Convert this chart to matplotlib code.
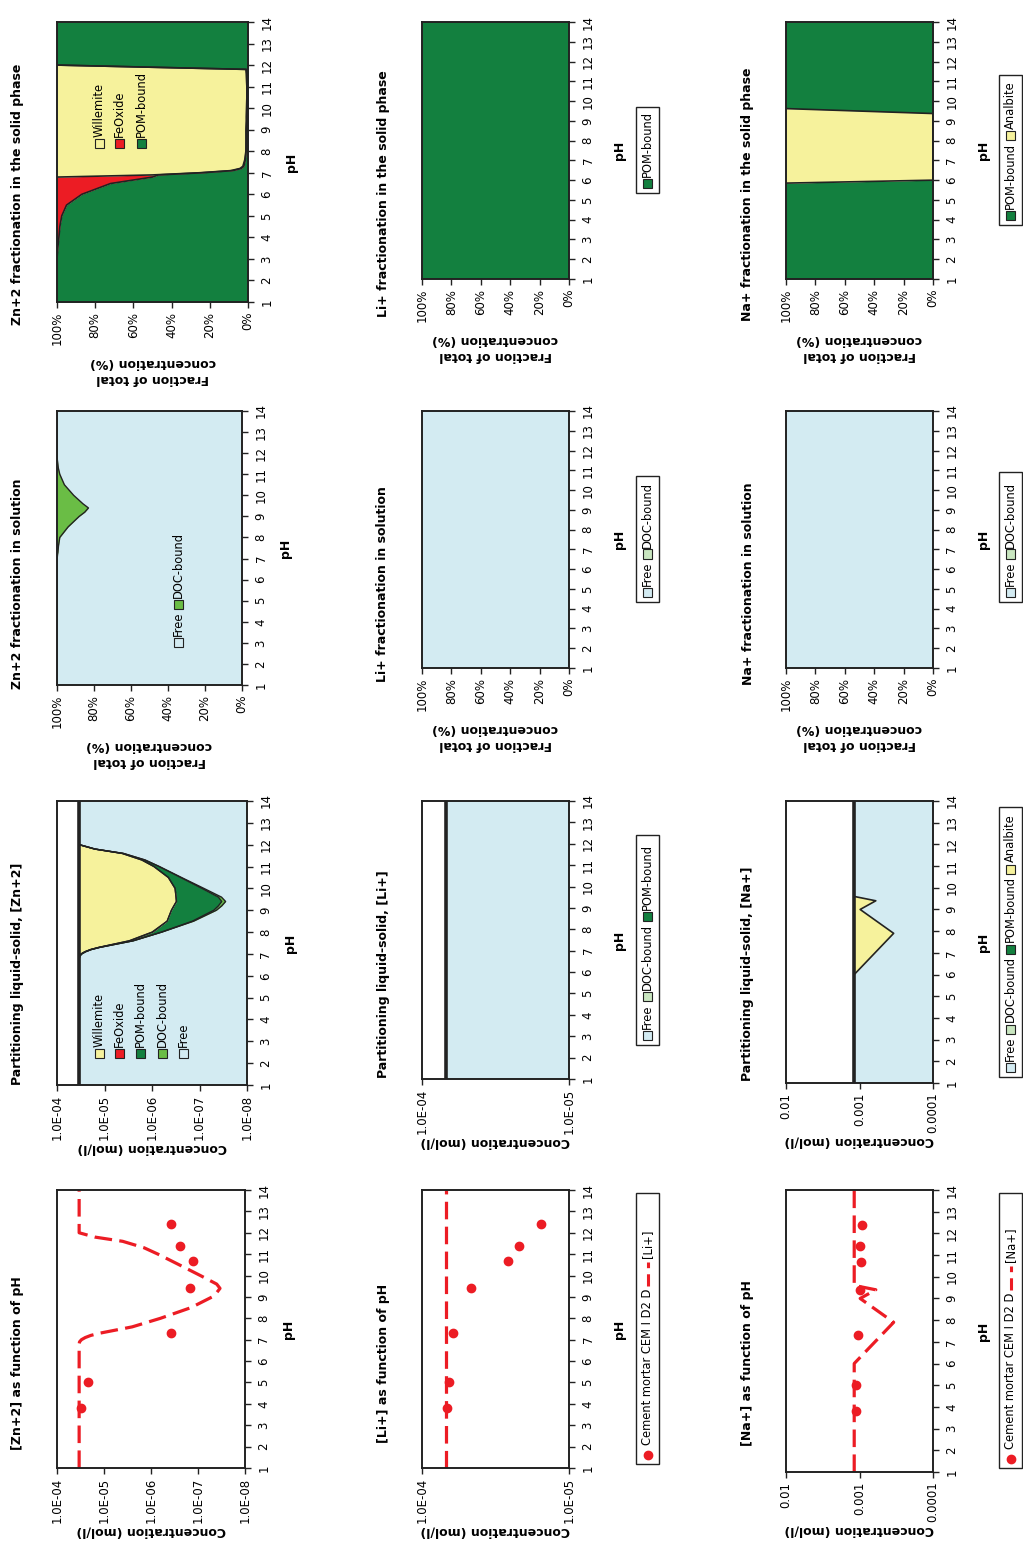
import matplotlib
matplotlib.use('Agg')
import matplotlib.pyplot as plt
import numpy as np
from matplotlib.patches import Rectangle
from matplotlib.lines import Line2D
from matplotlib.ticker import NullLocator

plt.rcParams['font.family'] = ['DejaVu Sans']

W, H = 1023, 1541

ph_ticks = list(range(1, 15))
pct_ticks = [100, 80, 60, 40, 20, 0]
pct_labels = ['100%', '80%', '60%', '40%', '20%', '0%']

# measured leachate concentrations (mol/l)
ph_meas = [3.8, 5.0, 7.3, 9.4, 10.7, 11.4, 12.4]
zn_meas = [3.16e-5, 2.24e-5, 3.7e-7, 1.5e-7, 1.3e-7, 2.45e-7, 3.7e-7]
li_meas = [6.73e-5, 6.52e-5, 6.12e-5, 4.65e-5, 2.62e-5, 2.2e-5, 1.54e-5]
na_meas = [1.10e-3, 1.10e-3, 1.06e-3, 1.0e-3, 9.55e-4, 9.8e-4, 9.3e-4]

# Zn model
ph_zn = [1, 2, 3, 3.5, 4, 4.5, 5, 5.5, 6, 6.5, 6.8, 6.9, 7.0, 7.1, 7.2, 7.3,
         7.6, 8.0, 8.5, 9.0, 9.2, 9.4, 9.6, 10.0, 10.5, 11.0, 11.3, 11.6,
         11.8, 12.0, 13, 14]
zn_total = 3.4e-5
zn_liquid = [3.38e-5, 3.38e-5, 3.38e-5, 3.38e-5, 3.38e-5, 3.38e-5, 3.38e-5,
             3.38e-5, 3.38e-5, 3.38e-5, 3.38e-5, 3.31e-5, 3.02e-5, 2.51e-5,
             1.91e-5, 1.26e-5, 2.51e-6, 6.3e-7, 1.41e-7, 5.0e-8, 4.0e-8,
             3.4e-8, 4.0e-8, 8.9e-8, 2.5e-7, 7.1e-7, 1.41e-6, 4.0e-6, 1.58e-5,
             3.38e-5, 3.38e-5, 3.38e-5]
# % of dissolved Zn bound to DOC
zn_doc_pct = [0, 0, 0, 0, 0, 0, 0, 0, 0, 0, 0, 0, 0, 0.2, 0.3, 0.5, 0.8, 1.5,
              6, 12, 15, 17, 14, 9, 4, 1.5, 0.7, 0.3, 0, 0, 0, 0]
# % of solid Zn per phase
zn_pom_pct = [100, 100, 100, 99.6, 99, 98.5, 97.5, 95, 87, 72, 50, 47, 24, 8,
              3.5, 2.2, 1.4, 1.0, 1.0, 1.0, 0.9, 0.8, 0.8, 0.7, 0.6, 0.6, 0.7,
              0.8, 1.0, 100, 100, 100]
zn_fe_pct = [0, 0, 0, 0.4, 1, 1.5, 2.5, 5, 13, 28, 50, 3, 1.5, 1, 0.7, 0.5,
             0.3, 0.1, 0, 0, 0, 0, 0, 0, 0, 0, 0, 0, 0, 0, 0, 0]

# Li model
ph_li = [1, 14]
li_liquid = [6.9e-5, 6.9e-5]
li_total = 6.9e-5

# Na model
ph_na = [1, 6.0, 7.9, 9.0, 9.4, 9.6, 14]
na_liquid = [1.18e-3, 1.18e-3, 3.43e-4, 9.8e-4, 6.0e-4, 1.18e-3, 1.18e-3]
na_total = 1.18e-3
ph_na_solid = [1, 5.85, 6.0, 9.37, 9.62, 14]
na_pom_pct = [100, 100, 0, 0, 100, 100]

LBLUE = '#d3ebf2'
YELLOW = '#f6f29c'
DGREEN = '#13803f'
RED = '#ec1c24'
DOCG = '#6abd45'
PALEG = '#c9e6c0'
LINE = '#222222'

fig = plt.figure(figsize=(W / 100, H / 100), dpi=100)
renderer = fig.canvas.get_renderer()


def axes_at(x0, y0, x1, y1):
    return fig.add_axes([x0 / W, 1 - y1 / H, (x1 - x0) / W, (y1 - y0) / H])


def setup(ax, pad_ph, xticks, xlabels, xlim, log, xlabel, pad_x):
    ax.set_ylim(1, 14)
    ax.set_yticks(ph_ticks)
    ax.yaxis.tick_right()
    ax.yaxis.set_label_position('right')
    ax.set_ylabel('pH', fontsize=9, fontweight='bold', labelpad=pad_ph)
    if log:
        ax.set_xscale('log')
    ax.set_xlim(*xlim)
    ax.set_xticks(xticks, xlabels)
    ax.xaxis.set_minor_locator(NullLocator())
    ax.set_xlabel(xlabel, fontsize=9, fontweight='bold', rotation=180,
                  labelpad=pad_x, linespacing=1.3)
    ax.tick_params(length=4, width=1, pad=5, labelsize=8.5, color=LINE)
    ax.tick_params(axis='x', pad=3)
    plt.setp(ax.get_yticklabels(), rotation=90, va='center')
    plt.setp(ax.get_xticklabels(), rotation=90)
    for s in ax.spines.values():
        s.set_linewidth(1.4)
        s.set_color(LINE)


def title(x, y, text):
    fig.text(x / W, 1 - y / H, text, rotation=90, ha='center', va='center',
             fontsize=9, fontweight='bold')


def legend_col(x, y0, items, fs=8.3):
    # entries stacked upward from image row y0, centred on column x
    y = y0
    for kind, colour, label in items:
        if kind == 'box':
            fig.add_artist(Rectangle(((x - 4.5) / W, 1 - y / H), 9 / W, 9 / H,
                                     transform=fig.transFigure, fc=colour,
                                     ec=LINE, lw=0.8))
            y -= 11
        elif kind == 'dot':
            fig.add_artist(Line2D([x / W], [1 - (y - 4) / H],
                                  transform=fig.transFigure, marker='o',
                                  ms=6, color=colour, ls='none'))
            y -= 14
        elif kind == 'dash':
            fig.add_artist(Line2D([x / W, x / W], [1 - y / H, 1 - (y - 24) / H],
                                  transform=fig.transFigure, color=colour,
                                  lw=2.2, ls=(0, (4, 2))))
            y -= 28
        t = fig.text(x / W, 1 - y / H, label, rotation=90, ha='center',
                     va='bottom', fontsize=fs)
        y -= t.get_window_extent(renderer).height + 3


def framed_legend(x0, x1, y0, y1, items):
    fig.add_artist(Rectangle((x0 / W, 1 - y1 / H), (x1 - x0) / W, (y1 - y0) / H,
                             transform=fig.transFigure, fc='white', ec=LINE,
                             lw=1.0))
    legend_col((x0 + x1) / 2, y1 - 5, items)


conc_zn = dict(xticks=[1e-4, 1e-5, 1e-6, 1e-7, 1e-8],
               xlabels=['1.0E-04', '1.0E-05', '1.0E-06', '1.0E-07', '1.0E-08'],
               xlim=(1e-4, 1e-8), log=True, xlabel='Concentration (mol/l)', pad_x=1)
conc_li = dict(xticks=[1e-4, 1e-5], xlabels=['1.0E-04', '1.0E-05'],
               xlim=(1e-4, 1e-5), log=True, xlabel='Concentration (mol/l)', pad_x=1)
conc_na = dict(xticks=[1e-2, 1e-3, 1e-4], xlabels=['0.01', '0.001', '0.0001'],
               xlim=(1e-2, 1e-4), log=True, xlabel='Concentration (mol/l)', pad_x=1)
frac = dict(xticks=pct_ticks, xlabels=pct_labels, xlim=(100, 0), log=False,
            xlabel='Fraction of total\nconcentration (%)', pad_x=8)

dash = (0, (5.5, 2.3))

# ---------------- Zn column ----------------
zl = np.array(zn_liquid)
zdoc = zl * np.array(zn_doc_pct) / 100
zfree = zl - zdoc
zsolid = zn_total - zl
zpom = zsolid * np.array(zn_pom_pct) / 100
zfe = zsolid * np.array(zn_fe_pct) / 100
ztot = np.full(len(ph_zn), zn_total)

ax = axes_at(57, 1190, 245, 1468)
ax.plot(zn_liquid, ph_zn, color=RED, lw=2.3, ls=dash)
ax.plot(zn_meas, ph_meas, 'o', color=RED, ms=6)
setup(ax, 8, **conc_zn)
title(18, 1363, '[Zn+2] as function of pH')

ax = axes_at(57, 801, 247, 1085)
c1, c2 = zfree, zl
c3 = zl + zpom
c4 = c3 + zfe
ax.fill_betweenx(ph_zn, 1e-8, c1, color=LBLUE, lw=0)
ax.fill_betweenx(ph_zn, c1, c2, color=DOCG, lw=0)
ax.fill_betweenx(ph_zn, c2, c3, color=DGREEN, lw=0)
ax.fill_betweenx(ph_zn, c3, c4, color=RED, lw=0)
ax.fill_betweenx(ph_zn, c4, ztot, color=YELLOW, lw=0)
for c in (c1, c2, c3, c4):
    ax.plot(c, ph_zn, color=LINE, lw=1.0)
ax.plot(ztot, ph_zn, color=LINE, lw=2.6)
setup(ax, 8, **conc_zn)
title(18, 974, 'Partitioning liquid-solid, [Zn+2]')
for cx, col, lab in [(99, YELLOW, 'Willemite'), (119, RED, 'FeOxide'),
                     (140, DGREEN, 'POM-bound'), (162, DOCG, 'DOC-bound'),
                     (183, LBLUE, 'Free')]:
    legend_col(cx, 1058, [('box', col, lab)])

ax = axes_at(57, 411, 242, 685)
free_pct = 100 - np.array(zn_doc_pct)
ax.fill_betweenx(ph_zn, 0, free_pct, color=LBLUE, lw=0)
ax.fill_betweenx(ph_zn, free_pct, 100, color=DOCG, lw=0)
ax.plot(free_pct, ph_zn, color=LINE, lw=1.0)
setup(ax, 8, **frac)
title(18, 584, 'Zn+2 fractionation in solution')
legend_col(178, 647, [('box', LBLUE, 'Free'), ('box', DOCG, 'DOC-bound')])

ax = axes_at(57, 22, 248, 302)
p1 = np.array(zn_pom_pct)
p2 = p1 + np.array(zn_fe_pct)
ax.fill_betweenx(ph_zn, 0, p1, color=DGREEN, lw=0)
ax.fill_betweenx(ph_zn, p1, p2, color=RED, lw=0)
ax.fill_betweenx(ph_zn, p2, 100, color=YELLOW, lw=0)
ax.plot(p1, ph_zn, color=LINE, lw=1.2)
ax.plot(p2, ph_zn, color=LINE, lw=1.2)
setup(ax, 8, **frac)
title(18, 194, 'Zn+2 fractionation in the solid phase')
for cx, col, lab in [(99, YELLOW, 'Willemite'), (119.5, RED, 'FeOxide'),
                     (141, DGREEN, 'POM-bound')]:
    legend_col(cx, 148, [('box', col, lab)])

# ---------------- Li column ----------------
ax = axes_at(422, 1190, 569, 1468)
ax.plot(li_liquid, ph_li, color=RED, lw=2.3, ls=dash)
ax.plot(li_meas, ph_meas, 'o', color=RED, ms=6)
setup(ax, 13, **conc_li)
title(383, 1363, '[Li+] as function of pH')
framed_legend(636, 659, 1193, 1464, [('dot', RED, 'Cement mortar CEM I D2 D'),
                                      ('dash', RED, '[Li+]')])

ax = axes_at(422, 801, 569, 1079)
ax.fill_betweenx(ph_li, 1e-5, li_liquid, color=LBLUE, lw=0)
ax.plot([li_total, li_total], ph_li, color=LINE, lw=2.6)
setup(ax, 13, **conc_li)
title(383, 974, 'Partitioning liquid-solid, [Li+]')
framed_legend(636, 659, 835, 1045, [('box', LBLUE, 'Free'), ('box', PALEG, 'DOC-bound'),
                                    ('box', DGREEN, 'POM-bound')])

ax = axes_at(422, 411, 569, 668)
ax.fill_betweenx(ph_li, 0, 100, color=LBLUE, lw=0)
setup(ax, 13, **frac)
title(383, 584, 'Li+ fractionation in solution')
framed_legend(636, 659, 476, 602, [('box', LBLUE, 'Free'), ('box', PALEG, 'DOC-bound')])

ax = axes_at(422, 22, 569, 279)
ax.fill_betweenx(ph_li, 0, 100, color=DGREEN, lw=0)
setup(ax, 13, **frac)
title(383, 194, 'Li+ fractionation in the solid phase')
framed_legend(636, 659, 107, 193, [('box', DGREEN, 'POM-bound')])

# ---------------- Na column ----------------
ax = axes_at(786, 1190, 933, 1472)
ax.plot(na_liquid, ph_na, color=RED, lw=2.3, ls=dash)
ax.plot(na_meas, ph_meas, 'o', color=RED, ms=6)
setup(ax, 13, **conc_na)
title(748, 1363, '[Na+] as function of pH')
framed_legend(999, 1022, 1193, 1468, [('dot', RED, 'Cement mortar CEM I D2 D'),
                                       ('dash', RED, '[Na+]')])

ax = axes_at(786, 801, 933, 1083)
ntot = np.full(len(ph_na), na_total)
ax.fill_betweenx(ph_na, 1e-4, na_liquid, color=LBLUE, lw=0)
ax.fill_betweenx(ph_na, na_liquid, ntot, color=YELLOW, lw=0)
ax.plot(na_liquid, ph_na, color=LINE, lw=1.2)
ax.plot(ntot, ph_na, color=LINE, lw=2.6)
setup(ax, 13, **conc_na)
title(748, 974, 'Partitioning liquid-solid, [Na+]')
framed_legend(999, 1022, 807, 1077, [('box', LBLUE, 'Free'), ('box', PALEG, 'DOC-bound'),
                                     ('box', DGREEN, 'POM-bound'), ('box', YELLOW, 'Analbite')])

ax = axes_at(786, 411, 933, 668)
ax.fill_betweenx(ph_li, 0, 100, color=LBLUE, lw=0)
setup(ax, 13, **frac)
title(748, 584, 'Na+ fractionation in solution')
framed_legend(999, 1022, 472, 602, [('box', LBLUE, 'Free'), ('box', PALEG, 'DOC-bound')])

ax = axes_at(786, 22, 933, 279)
ax.fill_betweenx(ph_na_solid, 0, na_pom_pct, color=DGREEN, lw=0)
ax.fill_betweenx(ph_na_solid, na_pom_pct, 100, color=YELLOW, lw=0)
ax.plot(na_pom_pct, ph_na_solid, color=LINE, lw=1.2)
setup(ax, 13, **frac)
title(748, 194, 'Na+ fractionation in the solid phase')
framed_legend(999, 1022, 75, 225, [('box', DGREEN, 'POM-bound'), ('box', YELLOW, 'Analbite')])

fig.savefig('out.png', dpi=100, facecolor='white')
